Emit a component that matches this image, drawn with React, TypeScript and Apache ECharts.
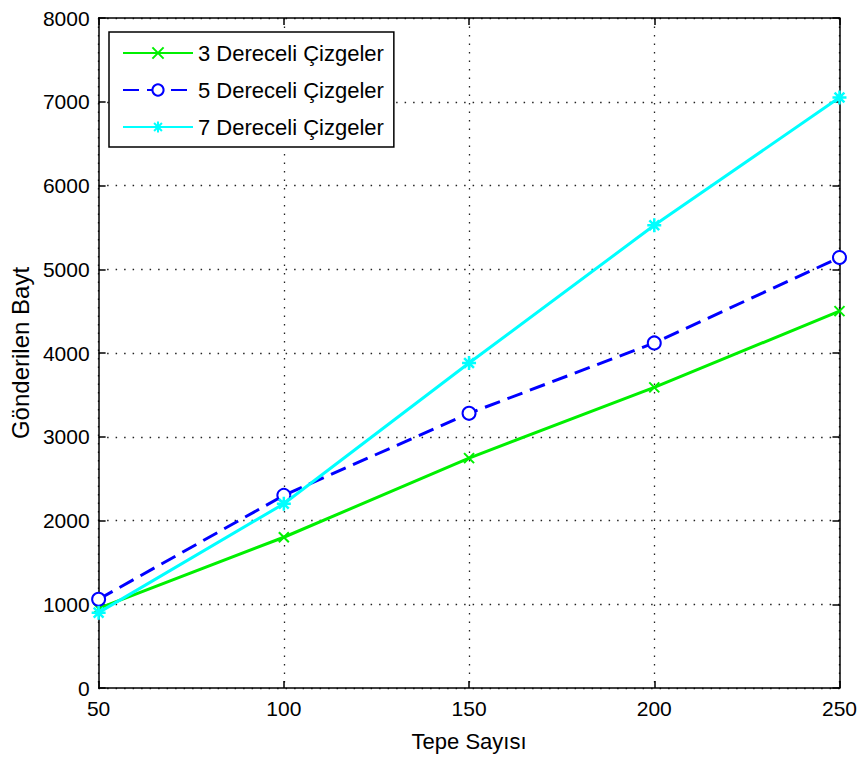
import React, { useEffect, useRef } from "react";
import * as echarts from "echarts";

const xValues = [50, 100, 150, 200, 250];
const series3 = [950, 1800, 2745, 3590, 4500];
const series5 = [1060, 2300, 3280, 4120, 5140];
const series7 = [900, 2200, 3880, 5525, 7050];
const seriesNames = ["3 Dereceli Çizgeler", "5 Dereceli Çizgeler", "7 Dereceli Çizgeler"];
const xTicks = { min: 50, max: 250, interval: 50 };
const yTicks = { min: 0, max: 8000, interval: 1000 };

const FONT = "Liberation Sans, Arial, sans-serif";
const crossPath = "path://M0,0L10,10M10,0L0,10";
const starPath = "path://M5,0L5,10M0,5L10,5M1.5,1.5L8.5,8.5M8.5,1.5L1.5,8.5";

export default function App() {
  const ref = useRef<HTMLDivElement>(null);
  useEffect(() => {
    if (!ref.current) return;
    const chart = echarts.init(ref.current, null, { renderer: "svg" });
    const toPairs = (ys: number[]) => xValues.map((x, i) => [x, ys[i]]);
    const grid = { left: 97, right: 18, top: 18, bottom: 74, containLabel: false };
    const splitDotted = { show: true, lineStyle: { color: "#222", width: 1.3, type: [1.5, 7] as any } };
    const axisLine = { show: true, onZero: false, lineStyle: { color: "#000", width: 1.5 } };
    const tick = { show: true, inside: true, length: 7, lineStyle: { color: "#000", width: 1.5 } };
    const plain = (v: number) => String(v);
    chart.setOption({
      animation: false,
      backgroundColor: "#fff",
      grid,
      xAxis: [
        {
          type: "value",
          ...xTicks,
          position: "bottom",
          axisLine,
          axisTick: tick,
          splitLine: splitDotted,
          axisLabel: { color: "#000", fontSize: 21, fontFamily: FONT, margin: 10, formatter: plain },
          name: "Tepe Sayısı",
          nameLocation: "middle",
          nameGap: 42,
          nameTextStyle: { color: "#000", fontSize: 22, fontFamily: FONT },
        },
        {
          type: "value",
          ...xTicks,
          position: "top",
          axisLine,
          axisTick: tick,
          splitLine: { show: false },
          axisLabel: { show: false },
        },
      ],
      yAxis: [
        {
          type: "value",
          ...yTicks,
          position: "left",
          axisLine,
          axisTick: tick,
          splitLine: splitDotted,
          axisLabel: { color: "#000", fontSize: 21, fontFamily: FONT, margin: 9, formatter: plain },
          name: "Gönderilen Bayt",
          nameLocation: "middle",
          nameGap: 64,
          nameTextStyle: { color: "#000", fontSize: 24, fontFamily: FONT },
        },
        {
          type: "value",
          ...yTicks,
          position: "right",
          axisLine,
          axisTick: tick,
          splitLine: { show: false },
          axisLabel: { show: false },
        },
      ],
      legend: {
        orient: "vertical",
        left: 109,
        top: 32,
        padding: [9, 10, 8, 13],
        itemWidth: 70,
        itemHeight: 14,
        itemGap: 13,
        backgroundColor: "#fff",
        borderColor: "#000",
        borderWidth: 1.5,
        borderRadius: 0,
        textStyle: { color: "#000", fontSize: 22, fontFamily: FONT, lineHeight: 24 },
        data: seriesNames,
      },
      series: [
        {
          name: seriesNames[0],
          type: "line",
          data: toPairs(series3),
          symbol: crossPath,
          symbolSize: 10,
          lineStyle: { color: "#00f000", width: 3 },
          itemStyle: { color: "#00f000", borderColor: "#00f000", borderWidth: 2 },
          z: 2,
        },
        {
          name: seriesNames[1],
          type: "line",
          data: toPairs(series5),
          symbol: "emptyCircle",
          symbolSize: 13,
          lineStyle: { color: "#0000ff", width: 3, type: [16, 8] as any },
          itemStyle: { color: "#0000ff", borderColor: "#0000ff", borderWidth: 2.5 },
          z: 3,
        },
        {
          name: seriesNames[2],
          type: "line",
          data: toPairs(series7),
          symbol: starPath,
          symbolSize: 14,
          lineStyle: { color: "#00ffff", width: 3 },
          itemStyle: { color: "#00ffff", borderColor: "#00ffff", borderWidth: 2.5 },
          z: 4,
        },
      ],
    });
    return () => chart.dispose();
  }, []);
  return <div ref={ref} style={{ width: 860, height: 762, position: "absolute", left: 0, top: 0 }} />;
}
